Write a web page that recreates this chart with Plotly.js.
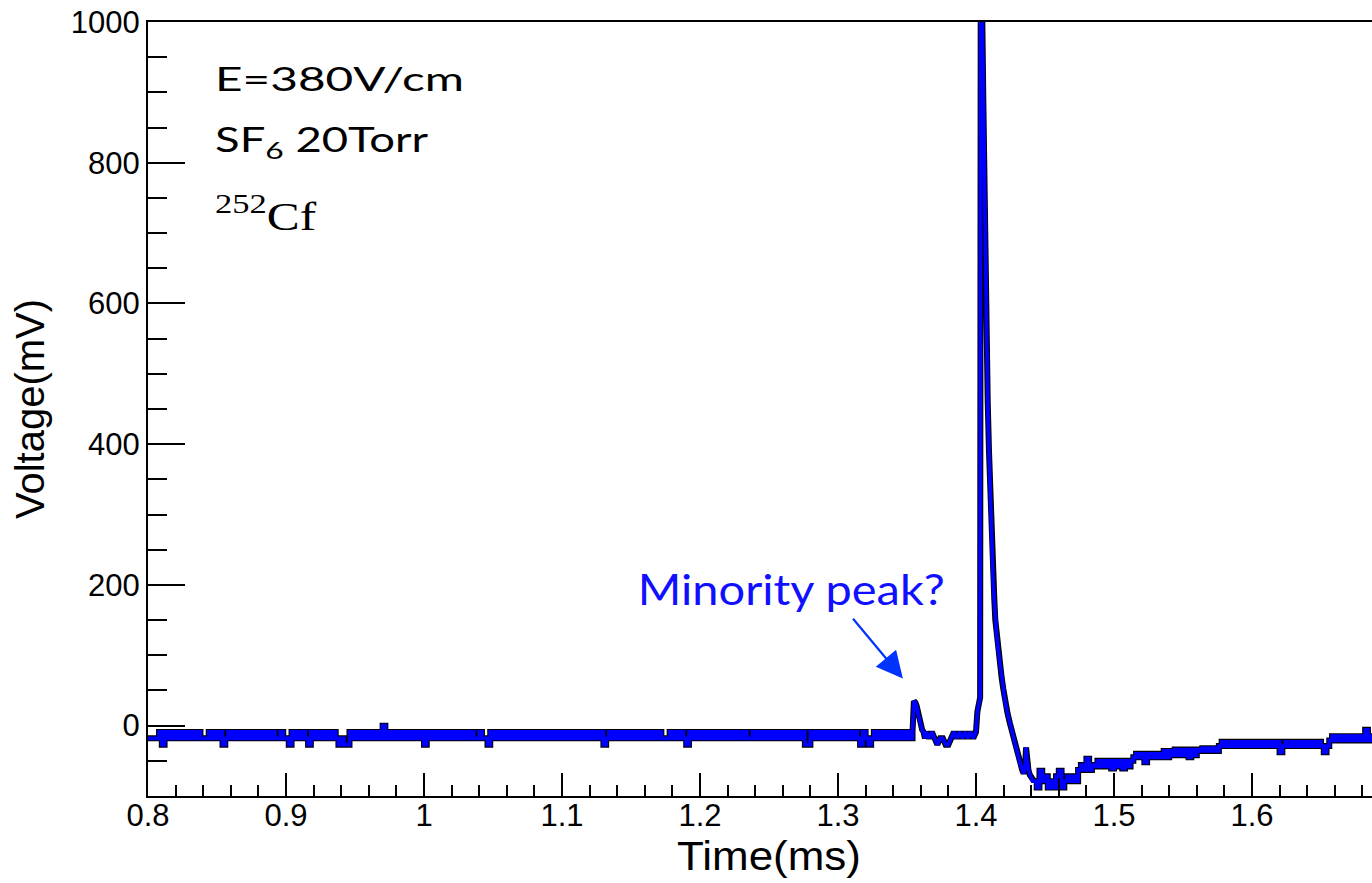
<!DOCTYPE html>
<html>
<head>
<meta charset="utf-8">
<script src="https://cdn.plot.ly/plotly-3.0.1.min.js"></script>
<style>
  html, body { margin: 0; padding: 0; background: #fff; overflow: hidden; width: 1372px; height: 883px; }
  #chart { width: 1390px; height: 883px; }
</style>
</head>
<body>
<div id="chart"></div>
<script>
// ---- Data (Voltage in mV, Time in ms) ----
// Digitiser levels seen in the quiet baseline
const U = -9, B = -18, D = -27;

// Pre-event baseline, sampled every 0.002 ms starting at 0.800 ms
const baselineStart = 0.800;
const baselineStep = 0.002;
const baselineV = [
  B,B,B,B,U,D,U,B,U,B,
  U,B,U,B,U,B,U,B,U,B,
  B,B,U,B,U,B,U,D,B,U,
  B,U,B,U,B,U,B,U,B,U,
  B,U,B,U,B,U,B,B,U,B,
  B,D,U,B,U,B,U,B,D,U,
  B,U,B,U,B,U,B,U,B,D,
  B,D,D,U,B,U,B,U,B,U,
  B,U,B,U,B,0,B,U,B,U,
  B,U,B,U,B,U,B,U,B,U,
  D,U,B,U,B,U,B,U,B,U,
  B,U,B,U,B,U,B,U,B,B,
  U,B,B,D,U,B,U,B,U,B,
  U,B,U,B,U,B,U,B,U,B,
  U,B,U,B,U,B,U,B,U,B,
  U,B,U,B,U,B,U,B,U,B,
  U,B,U,B,U,D,B,U,B,U,
  B,U,B,U,B,U,B,U,B,U,
  B,U,B,U,B,U,B,B,B,U,
  B,U,B,U,B,D,U,B,U,B,
  U,B,U,B,U,B,U,B,U,B,
  U,B,U,B,U,B,U,B,B,U,
  B,U,B,U,B,U,B,U,B,U,
  B,U,B,U,B,U,B,U,D,D,
  U,B,U,B,U,B,U,B,U,B,
  U,B,U,B,U,B,U,B,D,U,
  B,D,B,U,B,U,B,U,B,U,
  B,U,B,U,B,U,B,U
];

// Minority peak and main pulse (irregular sample times)
const eventT = [
  1.354, 1.355, 1.356, 1.357, 1.358, 1.359, 1.360, 1.361, 1.362, 1.363,
  1.364, 1.366, 1.368, 1.370, 1.372, 1.374, 1.376, 1.378, 1.380, 1.382,
  1.384, 1.386, 1.388, 1.390, 1.392, 1.394, 1.396, 1.398, 1.400, 1.401,
  1.402, 1.403, 1.4034, 1.4040, 1.4046, 1.4053, 1.4060, 1.4065, 1.4071, 1.4077,
  1.4085, 1.4094, 1.4104, 1.4114, 1.4124, 1.4133, 1.4140, 1.4150, 1.4162, 1.4174,
  1.4186, 1.4198, 1.4210, 1.4228, 1.4246, 1.4264, 1.4283, 1.4300, 1.4320, 1.4335,
  1.4345, 1.4355, 1.4363, 1.4370, 1.4380, 1.4390, 1.4400, 1.4410, 1.4420
];
const eventV = [
  -9, 35, 33, 28, 18, 8, -2, -6, -9, -18,
  -9, -18, -9, -18, -27, -18, -18, -27, -27, -18,
  -9, -18, -9, -18, -9, -18, -9, -18, -9, 20,
  35, 40, 1000, 1000, 998, 889, 747, 676, 605, 533,
  460, 391, 318, 249, 205, 178, 150, 128, 107, 87,
  68, 52, 36, 18, 3, -12, -26, -40, -54, -63,
  -68, -60, -31, -50, -63, -70, -74, -79, -79
];

// Undershoot and slow recovery, sampled every 0.002 ms starting at 1.442 ms
const tailStart = 1.442;
const tailStep = 0.002;
const tailV = [
  -79, -88, -64, -79, -72, -88, -79, -88, -72, -64,
  -88, -79, -72, -79, -72, -79, -63, -56, -63, -47,
  -63, -56, -58, -50, -58, -50, -58, -50, -61, -50,
  -58, -50, -61, -50, -58, -50, -45, -40, -45, -40,
  -52, -40, -45, -40, -45, -40, -45, -36, -45, -36,
  -42, -34, -42, -34, -42, -34, -45, -34, -42, -34,
  -36, -32, -36, -32, -36, -32, -36, -29, -23, -29,
  -23, -29, -23, -29, -23, -29, -23, -29, -23, -29,
  -23, -29, -23, -29, -23, -29, -23, -29, -23, -38,
  -29, -23, -29, -23, -29, -23, -29, -23, -29, -23,
  -29, -23, -29, -23, -29, -38, -29, -21, -15, -21,
  -15, -21, -15, -21, -15, -21, -15, -21, -15, -21,
  -6, -21, -15, -21, -15, -21, -15, -21, -15, -21
];

// Axis settings
const xRange = [0.8, 1.7];
const yRange = [-100, 1000];
const xTickVals = [0.8, 0.9, 1.0, 1.1, 1.2, 1.3, 1.4, 1.5, 1.6, 1.7];
const xTickText = ['0.8', '0.9', '1', '1.1', '1.2', '1.3', '1.4', '1.5', '1.6', '1.7'];
const yTickVals = [0, 200, 400, 600, 800, 1000];
const yTickText = ['0', '200', '400', '600', '800', '1000'];

// ---- Traces ----
const BLUE = '#0000ff';
function seg(extra, color, width, shape) {
  return Object.assign({
    type: 'scatter', mode: 'lines', hoverinfo: 'skip', showlegend: false,
    line: { color: color, width: width, shape: shape }
  }, extra);
}
const segments = [
  [{ y: baselineV, x0: baselineStart, dx: baselineStep }, 'hv'],
  [{ x: eventT, y: eventV }, 'linear'],
  [{ y: tailV, x0: tailStart, dx: tailStep }, 'hv']
];
const traces = [];
segments.forEach(s => traces.push(seg(s[0], '#000000', 6, s[1])));
segments.forEach(s => traces.push(seg(s[0], BLUE, 3.8, s[1])));

const axisFont = { family: 'Liberation Sans, Arial, sans-serif', size: 31, color: '#000' };
const titleFont = { family: 'Liberation Sans, Arial, sans-serif', size: 40, color: '#000' };
const noteFont = 'Lato, "Open Sans", sans-serif';

const layout = {
  width: 1390, height: 883,
  margin: { l: 148, r: 0, t: 22, b: 87, pad: 0 },
  paper_bgcolor: '#fff', plot_bgcolor: '#fff',
  showlegend: false,
  xaxis: {
    range: xRange, showgrid: false, zeroline: false,
    showline: true, linecolor: '#000', linewidth: 2, mirror: true,
    ticks: 'inside', ticklen: 23, tickwidth: 2, tickcolor: '#000',
    tickmode: 'array', tickvals: xTickVals, ticktext: xTickText,
    tickfont: axisFont, ticklabelstandoff: -9,
    minor: { dtick: 0.02, tick0: 0.8, ticks: 'inside', ticklen: 11, tickwidth: 2, tickcolor: '#000' },
    title: { text: 'Time(ms)', font: titleFont, standoff: 10 }
  },
  yaxis: {
    range: yRange, showgrid: false, zeroline: false,
    showline: true, linecolor: '#000', linewidth: 2, mirror: true,
    ticks: 'inside', ticklen: 37, tickwidth: 2, tickcolor: '#000',
    tickmode: 'array', tickvals: yTickVals, ticktext: yTickText,
    tickfont: axisFont,
    minor: { dtick: 50, tick0: 0, ticks: 'inside', ticklen: 19, tickwidth: 2, tickcolor: '#000' },
    title: { text: 'Voltage(mV)', font: titleFont, standoff: 14 }
  },
  annotations: [
    { xref: 'paper', yref: 'paper', x: 0.0523, y: 0.928, xanchor: 'left', yanchor: 'middle',
      text: 'E=380V/cm', showarrow: false, font: { family: noteFont, size: 33, color: '#000' } },
    { xref: 'paper', yref: 'paper', x: 0.0523, y: 0.846, xanchor: 'left', yanchor: 'middle',
      text: 'SF<sub>6</sub> 20Torr', showarrow: false, font: { family: noteFont, size: 34, color: '#000' } },
    { xref: 'paper', yref: 'paper', x: 0.0523, y: 0.753, xanchor: 'left', yanchor: 'middle',
      text: '<sup>252</sup>Cf', showarrow: false, font: { family: 'Liberation Serif, Times New Roman, serif', size: 40, color: '#000' } },
    { xref: 'paper', yref: 'paper', x: 0.518, y: 0.268, xanchor: 'center', yanchor: 'middle',
      text: 'Minority peak?', showarrow: false, font: { family: noteFont, size: 42, color: '#1010ff' } },
    { xref: 'x', yref: 'y', axref: 'x', ayref: 'y', x: 1.347, y: 67, ax: 1.310, ay: 154,
      text: '', showarrow: true, arrowhead: 2, arrowsize: 2.4, arrowwidth: 2.2, arrowcolor: '#0033ff', standoff: 0 }
  ]
};

// Horizontal widths (px) of the texts in the reference, whose lettering is drawn wide
const annotationWidths = { 0: 249, 1: 214, 2: 102, 3: 307 };
const xTitleWidth = 184;

function stretchText(el, targetW, anchor) {
  if (!el) return;
  const bb = el.getBBox();
  if (!bb.width) return;
  const s = targetW / bb.width;
  const cx = anchor === 'left' ? bb.x : bb.x + bb.width / 2;
  el.setAttribute('transform', 'translate(' + cx + ',0) scale(' + s + ',1) translate(' + (-cx) + ',0)');
}

Plotly.newPlot('chart', traces, layout, { displayModeBar: false, staticPlot: true }).then(gd => {
  Object.keys(annotationWidths).forEach(i => {
    const el = gd.querySelector('.annotation[data-index="' + i + '"] text.annotation-text');
    stretchText(el, annotationWidths[i], layout.annotations[i].xanchor);
  });
  stretchText(gd.querySelector('text.xtitle'), xTitleWidth, 'center');
});
</script>
</body>
</html>
